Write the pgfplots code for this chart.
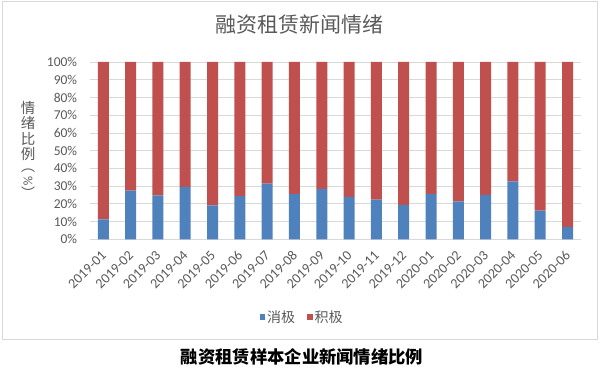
\documentclass[border=0pt]{standalone}
\usepackage{pgfplots}
\pgfplotsset{compat=1.18}
\usepackage{fontspec}
\setmainfont{Carlito}
\newfontfamily\cjk{Noto Sans CJK SC}
\definecolor{neg}{HTML}{4F81BD}
\definecolor{pos}{HTML}{C0504D}
\definecolor{txt}{HTML}{595959}
\definecolor{gridc}{HTML}{D9D9D9}
\begin{document}
\begin{tikzpicture}
\path[use as bounding box] (0,0) rectangle (600pt,372pt);
\draw[gridc, line width=1pt] (2pt,32pt) rectangle (597.5pt,370pt);
\node[font=\cjk\fontsize{21}{24}\selectfont, text=txt] at (299pt,347pt) {融资租赁新闻情绪};
\node[font=\cjk\bfseries\fontsize{17.3}{20}\selectfont, text=black] at (302pt,15.3pt) {融资租赁样本企业新闻情绪比例};
\node[font=\cjk\fontsize{14.5}{15.5}\selectfont, text=txt, align=center] at (28pt,241pt) {情\\绪\\比\\例};
\node[font=\cjk\fontsize{14}{15}\selectfont, text=txt, inner sep=0pt] at (28pt,201pt) {︵};
\node[font=\fontsize{13}{15}\selectfont, text=txt, rotate=-90, inner sep=0pt] at (28pt,190.5pt) {\%};
\node[font=\cjk\fontsize{14}{15}\selectfont, text=txt, inner sep=0pt] at (28pt,179pt) {︶};
\begin{axis}[
  scale only axis, width=491.55pt, height=177.3pt,
  anchor=south west, at={(89.65pt,132.7pt)},
  xmin=-0.5, xmax=17.5, ymin=0, ymax=100,
  ybar stacked, bar width=11pt,
  axis x line*=bottom, axis y line*=left,
  x axis line style={gridc, line width=1pt, -},
  y axis line style={draw=none},
  ytick={0,10,...,100},
  yticklabels={0\%,10\%,20\%,30\%,40\%,50\%,60\%,70\%,80\%,90\%,100\%},
  xtick={0,...,17},
  xticklabels={2019-01,2019-02,2019-03,2019-04,2019-05,2019-06,2019-07,2019-08,2019-09,2019-10,2019-11,2019-12,2020-01,2020-02,2020-03,2020-04,2020-05,2020-06},
  major tick length=0pt, tick style={draw=none},
  ymajorgrids, grid style={gridc, line width=0.75pt},
  yticklabel style={font=\fontsize{13.5}{16}\selectfont, text=txt},
  yticklabel shift=9pt,
  xticklabel style={font=\fontsize{14}{16}\selectfont, text=txt, rotate=45, anchor=east, xshift=4pt},
  xticklabel shift=14pt,
  legend style={at={(0.432,-0.438)}, anchor=center, draw=none, fill=none,
    legend columns=2, font=\cjk\fontsize{14}{16}\selectfont, text=txt,
    /tikz/every even column/.append style={column sep=10pt}},
  legend image code/.code={\fill[#1] (0pt,-2.75pt) rectangle (5.5pt,2.75pt);},
]
\addplot[fill=neg, draw=none] coordinates {
(0,11.3) (1,27.4) (2,24.8) (3,29.5) (4,19.2) (5,24.4) (6,31.4) (7,25.6) (8,28.4)
(9,23.9) (10,22.4) (11,19.4) (12,25.6) (13,21.4) (14,25.0) (15,32.7) (16,16.2) (17,7.0)};
\addlegendentry{消极}
\addplot[fill=pos, draw=none] coordinates {
(0,88.7) (1,72.6) (2,75.2) (3,70.5) (4,80.8) (5,75.6) (6,68.6) (7,74.4) (8,71.6)
(9,76.1) (10,77.6) (11,80.6) (12,74.4) (13,78.6) (14,75.0) (15,67.3) (16,83.8) (17,93.0)};
\addlegendentry{积极}
\end{axis}
\end{tikzpicture}
\end{document}
